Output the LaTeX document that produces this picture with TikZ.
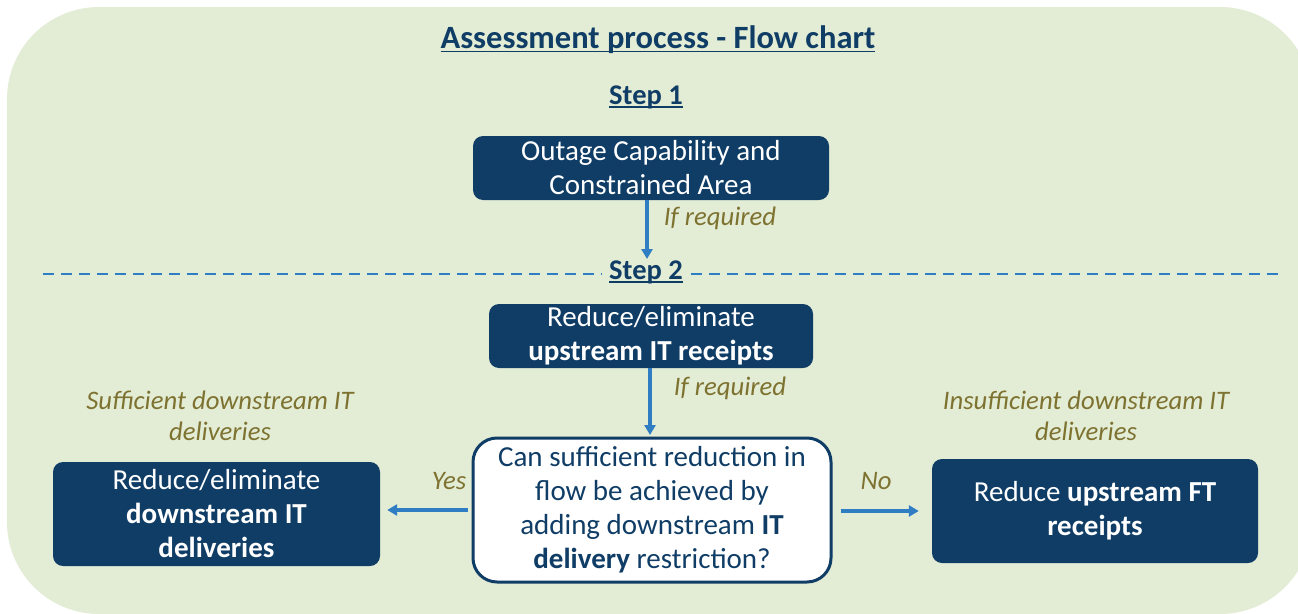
\documentclass[tikz,border=0pt]{standalone}
\usepackage{fontspec}
\setmainfont{Carlito}
\usetikzlibrary{arrows.meta}
\definecolor{bggreen}{HTML}{E3ECD5}
\definecolor{navy}{HTML}{0F3D66}
\definecolor{arrowblue}{HTML}{2F7DC3}
\definecolor{olive}{HTML}{7D7230}
% thick underline for headings
\newcommand{\headul}[1]{\setbox0=\hbox{#1}\rlap{\copy0}\rule[-3.5pt]{\wd0}{1.8pt}}
\begin{document}
\begin{tikzpicture}[x=1pt, y=-1pt,
    box/.style={rectangle, rounded corners=10pt, fill=navy, text=white, align=center,
        font=\fontsize{29}{34}\selectfont, inner sep=0pt},
    question/.style={rectangle, rounded corners=24pt, draw=navy, line width=3pt, fill=white,
        text=navy, align=center, font=\fontsize{29}{34}\selectfont, inner sep=0pt},
    note/.style={text=olive, align=center, font=\fontsize{26.7}{31}\selectfont\itshape},
    heading/.style={text=navy, font=\fontsize{28.5}{33}\selectfont\bfseries},
    arrow/.style={-{Triangle[length=10pt, width=11pt]}, line width=3.3pt, draw=arrowblue},
    dashline/.style={draw=arrowblue, line width=1.8pt, dash pattern=on 11pt off 7pt}
]
    \useasboundingbox (0,0) rectangle (1298,613);
    % Background
    \fill[bggreen, rounded corners=92pt] (7,7) rectangle (1312,614);

    % Title
    \node[heading, font=\fontsize{32.5}{38}\selectfont\bfseries] (title) at (658,40) {\headul{Assessment process - Flow chart}};

    % Step 1
    \node[heading] (step1) at (646,97) {\headul{Step 1}};
    \node[box, minimum width=356pt, minimum height=64pt] (outage) at (651,168) {Outage Capability and\\Constrained Area};

    % Step 2
    \node[heading, inner xsep=8pt] (step2) at (646,272) {\headul{Step 2}};
    \coordinate (dashL) at (43,274);
    \coordinate (dashR) at (1278,274);
    \draw[dashline] (dashL) -- (step2.west |- dashL);
    \draw[dashline] (step2.east |- dashR) -- (dashR);
    \node[box, minimum width=324pt, minimum height=64pt] (upstream) at (651,336) {Reduce/eliminate\\\textbf{upstream IT receipts}};
    \node[question, minimum width=358pt, minimum height=144pt] (ask) at (652,510) {Can sufficient reduction in\\flow be achieved by\\adding downstream \textbf{IT}\\\textbf{delivery} restriction?};
    \node[box, minimum width=327pt, minimum height=104pt] (downstream) at (216.5,514) {Reduce/eliminate\\\textbf{downstream IT}\\\textbf{deliveries}};
    \node[box, minimum width=326pt, minimum height=104pt] (firm) at (1095,511) {Reduce \textbf{upstream FT}\\\textbf{receipts}};

    % Notes
    \node[note] (req1) at (720,218) {If required};
    \node[note] (req2) at (730,388) {If required};
    \node[note] (yes) at (449,481) {Yes};
    \node[note] (no) at (876,481) {No};
    \node[note] (suff) at (220,416) {Sufficient downstream IT\\deliveries};
    \node[note] (insuff) at (1086,416) {Insufficient downstream IT\\deliveries};

    % Arrows
    \draw[arrow] (outage.south -| 647,0) -- (647,259);
    \draw[arrow] (upstream.south -| 650,0) -- (650,435);
    \draw[arrow, shorten <=4pt, shorten >=7pt] (ask.west) -- (downstream.east |- ask.west);
    \draw[arrow, shorten <=8pt, shorten >=13pt] (ask.east |- firm.west) -- (firm.west);
\end{tikzpicture}
\end{document}
